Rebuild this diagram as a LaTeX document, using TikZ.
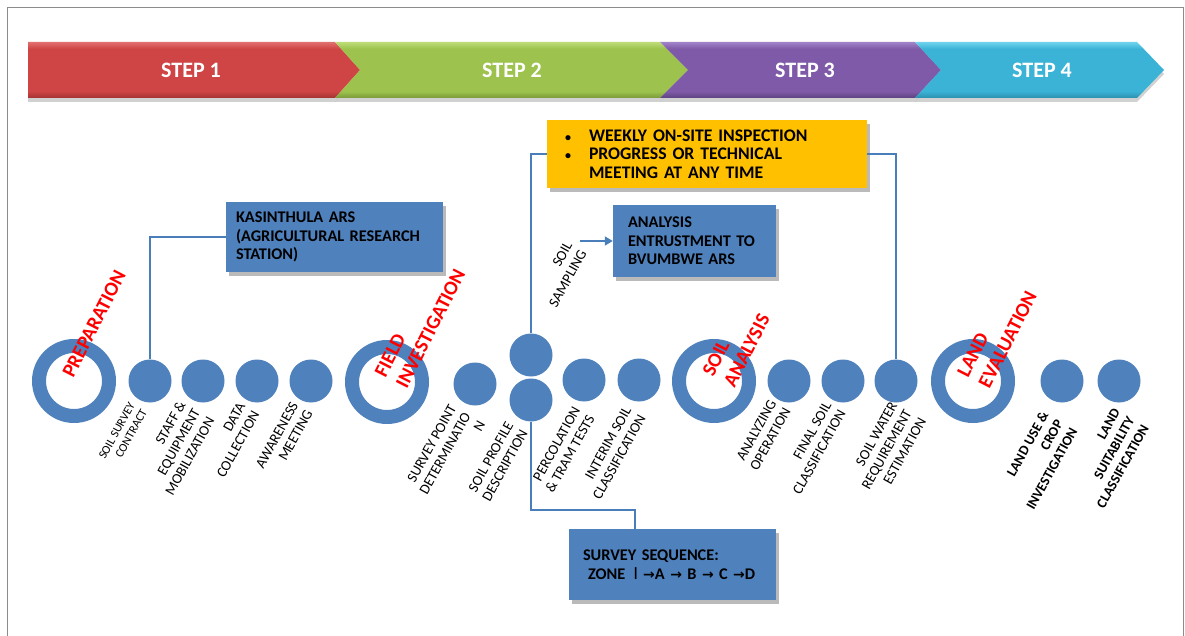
\documentclass[tikz,border=0pt]{standalone}
\usepackage{fontspec}
\setmainfont{Carlito}
\newfontfamily\djv{DejaVu Sans}
\usetikzlibrary{shadows,arrows.meta,calc}
\definecolor{cblue}{HTML}{4F81BD}
\definecolor{lineblue}{HTML}{4A7EBB}
\definecolor{yel}{HTML}{FFC000}
\definecolor{phred}{HTML}{FF0000}
\definecolor{rdark}{HTML}{A33232}\definecolor{rmain}{HTML}{CF4545}\definecolor{rlight}{HTML}{E27070}
\definecolor{gdark}{HTML}{7A9A3A}\definecolor{gmain}{HTML}{9DC34E}\definecolor{glight}{HTML}{BEDD78}
\definecolor{pdark}{HTML}{5E4180}\definecolor{pmain}{HTML}{7E5AA8}\definecolor{plight}{HTML}{A283C9}
\definecolor{cdark}{HTML}{2B8FAE}\definecolor{cmain}{HTML}{3BB3D6}\definecolor{clight}{HTML}{70D3EE}
\pgfdeclareverticalshading{shred}{100bp}{color(0bp)=(rdark); color(25bp)=(rdark); color(31bp)=(rmain); color(69bp)=(rmain); color(75bp)=(rlight); color(100bp)=(rlight)}
\pgfdeclareverticalshading{shgreen}{100bp}{color(0bp)=(gdark); color(25bp)=(gdark); color(31bp)=(gmain); color(69bp)=(gmain); color(75bp)=(glight); color(100bp)=(glight)}
\pgfdeclareverticalshading{shpurple}{100bp}{color(0bp)=(pdark); color(25bp)=(pdark); color(31bp)=(pmain); color(69bp)=(pmain); color(75bp)=(plight); color(100bp)=(plight)}
\pgfdeclareverticalshading{shcyan}{100bp}{color(0bp)=(cdark); color(25bp)=(cdark); color(31bp)=(cmain); color(69bp)=(cmain); color(75bp)=(clight); color(100bp)=(clight)}
\newcommand{\bul}{\makebox[24pt][l]{\fontsize{12}{12}\selectfont •}}
\newcommand{\rarr}{{\djv\fontsize{14}{14}\selectfont →}}
\begin{document}
\begin{tikzpicture}[x=1pt,y=-1pt,
  frameline/.style={draw=black!45, line width=1pt},
  stepshadow/.style={fill=black, opacity=0.18},
  steptxt/.style={text=white, font=\bfseries\fontsize{22}{26}\selectfont, inner sep=0pt},
  ring/.style={circle, draw=cblue, line width=14pt, minimum size=70pt, inner sep=0pt},
  dot/.style={circle, fill=cblue, minimum size=43pt, inner sep=0pt},
  phase/.style={rotate=63, align=left, text=phred, inner sep=0pt, font=\bfseries\fontsize{20}{24}\selectfont},
  lbl/.style={rotate=61, anchor=north east, align=right, inner sep=1pt, font=\fontsize{14.5}{16.5}\selectfont},
  lblb/.style={lbl, font=\bfseries\fontsize{14}{16.5}\selectfont},
  boxshadow/.style={drop shadow={shadow xshift=3pt, shadow yshift=-4pt, opacity=0.45, fill=black!60}},
  bbox/.style={fill=cblue, boxshadow, align=left, inner ysep=0pt, font=\bfseries\fontsize{16.3}{18.5}\selectfont},
  ybox/.style={fill=yel, boxshadow, align=left, inner ysep=0pt, font=\bfseries\fontsize{17.7}{18.5}\selectfont},
  conn/.style={draw=lineblue, line width=1.5pt}
]
\useasboundingbox (0,0) rectangle (1185,636);
\fill[white] (0,0) rectangle (1185,636);
\draw[frameline] (7,640) -- (7,8) -- (1183,8) -- (1183,640);

% step arrows: shadows first
\begin{scope}[yshift=-4pt]
\fill[stepshadow] (28,42) -- (335,42) -- (360,70) -- (335,98) -- (28,98) -- cycle;
\fill[stepshadow] (335,42) -- (660,42) -- (688,70) -- (660,98) -- (335,98) -- (360,70) -- cycle;
\fill[stepshadow] (660,42) -- (915,42) -- (941,70) -- (915,98) -- (660,98) -- (688,70) -- cycle;
\fill[stepshadow] (915,42) -- (1137,42) -- (1164,70) -- (1137,98) -- (915,98) -- (941,70) -- cycle;
\end{scope}
\shade[shading=shred] (28,42) -- (335,42) -- (360,70) -- (335,98) -- (28,98) -- cycle;
\shade[shading=shgreen] (335,42) -- (660,42) -- (688,70) -- (660,98) -- (335,98) -- (360,70) -- cycle;
\shade[shading=shpurple] (660,42) -- (915,42) -- (941,70) -- (915,98) -- (660,98) -- (688,70) -- cycle;
\shade[shading=shcyan] (915,42) -- (1137,42) -- (1164,70) -- (1137,98) -- (915,98) -- (941,70) -- cycle;
\node[steptxt] (s1) at (191,70) {STEP 1};
\node[steptxt] (s2) at (512,70) {STEP 2};
\node[steptxt] (s3) at (805,70) {STEP 3};
\node[steptxt] (s4) at (1042,70) {STEP 4};

% boxes
\node[bbox, minimum width=217pt, minimum height=70pt, text width=197pt, inner xsep=10pt] (kas) at (334.5,237) {KASINTHULA ARS\\(AGRICULTURAL RESEARCH\\STATION)};
\node[ybox, minimum width=320pt, minimum height=68pt, text width=284pt, inner xsep=18pt] (yb) at (707,154) {\bul WEEKLY ON-SITE INSPECTION\\\bul PROGRESS OR TECHNICAL\\\hspace*{24pt}MEETING AT ANY TIME};
\node[bbox, minimum width=207pt, minimum height=72pt, text width=133pt, inner xsep=15pt, minimum width=163pt] (ana) at (694.5,241) {ANALYSIS\\ENTRUSTMENT TO\\BVUMBWE ARS};
\node[bbox, minimum width=207pt, minimum height=71pt, text width=201pt, inner xsep=3pt] (seq) at (672.5,564.5) {\hspace*{11pt}SURVEY SEQUENCE:\\\hspace*{16pt}ZONE\, {\djv\mdseries Ⅰ}\hspace{5pt}\rarr A \rarr\ B \rarr\ C \rarr D};

% circles
\node[ring] (prep) at (74,381) {};
\node[dot] (c1) at (150,381) {};
\node[dot] (c2) at (203,381) {};
\node[dot] (c3) at (257,381) {};
\node[dot] (c4) at (311,381) {};
\node[ring] (field) at (387,382) {};
\node[dot] (c5) at (475,384) {};
\node[dot] (c6) at (531,355) {};
\node[dot] (c7) at (531,400) {};
\node[dot] (c8) at (584,380) {};
\node[dot] (c9) at (639,380) {};
\node[ring] (soil) at (714,381) {};
\node[dot] (c10) at (789,381) {};
\node[dot] (c11) at (843,381) {};
\node[dot] (c12) at (896,381) {};
\node[ring] (land) at (973,381) {};
\node[dot] (c13) at (1062,381) {};
\node[dot] (c14) at (1119,381) {};

% connectors
\draw[conn] (c1.north) |- (kas.west);
\draw[conn] (c6.north) |- (yb.west);
\draw[conn] (yb.east) -| (c12.north);
\coordinate (sarr) at (580,241);
\draw[conn, -{Triangle[length=8pt,width=9pt]}] (sarr) -- (ana.west);
\coordinate (seqk) at (635,510);
\draw[conn] (c7.south) |- (seqk) -- (seqk |- seq.north);

% phase labels
\node[phase] (tprep) at (94,324) {PREPARATION};
\node[phase] (tfield) at (420,323) {FIELD\\INVESTIGATION};
\node[phase] (tsoil) at (736,345) {SOIL\\ANALYSIS};
\node[phase] (tland) at (997,334) {LAND\\EVALUATION};

% step labels
\node[lbl, font=\fontsize{12}{14}\selectfont] (l1) at (128,400) {SOIL SURVEY\\CONTRACT};
\node[lbl] (l2) at (177,398) {STAFF \&\\EQUIPMENT\\MOBILIZATION};
\node[lbl] (l3) at (237,400) {DATA\\COLLECTION};
\node[lbl] (l4) at (290,399) {AWARENESS\\MEETING};
\node[lbl] (l5) at (448,402) {SURVEY POINT\\DETERMINATIO\\N};
\node[lbl] (l6) at (505,419) {SOIL PROFILE\\DESCRIPTION};
\node[lbl] (l7) at (572,404) {PERCOLATION\\\& TRAM TESTS};
\node[lbl] (l8) at (623,404) {INTERIM SOIL\\CLASSIFICATION};
\node[lbl] (l9) at (768,397) {ANALYZING\\OPERATION};
\node[lbl] (l10) at (823,399) {FINAL SOIL\\CLASSIFICATION};
\node[lbl] (l11) at (889,399) {SOIL WATER\\REQUIREMENT\\ESTIMATION};
\node[lblb] (l12) at (1040,409) {LAND USE \&\\CROP\\INVESTIGATION};
\node[lblb] (l13) at (1112,406) {LAND\\SUITABILITY\\CLASSIFICATION};
\node[lbl] (lss) at (564,239) {SOIL\\SAMPLING};
\end{tikzpicture}
\end{document}
